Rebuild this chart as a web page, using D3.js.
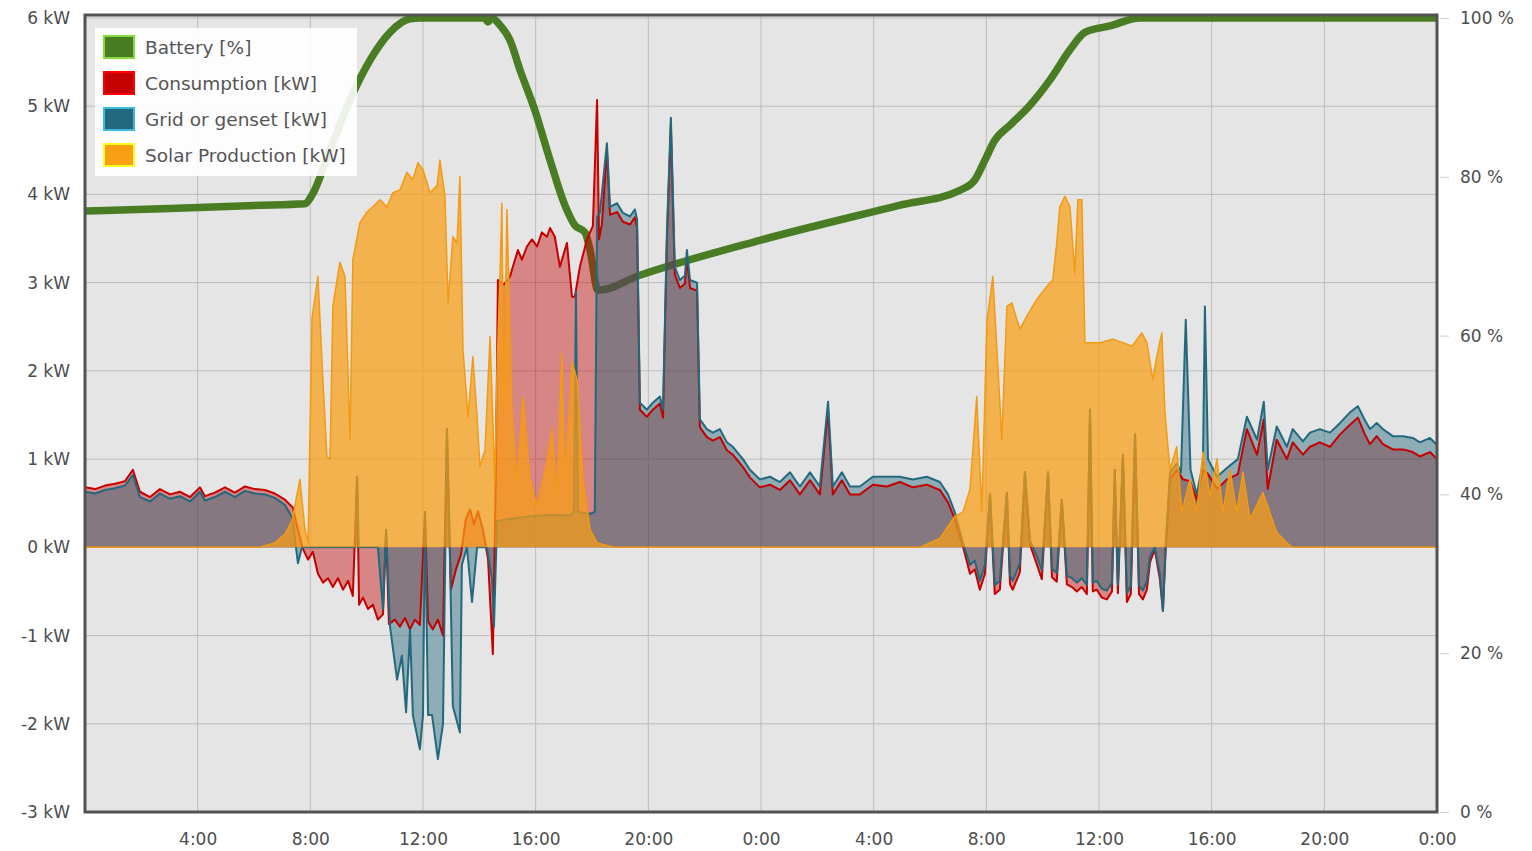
<!DOCTYPE html>
<html>
<head>
<meta charset="utf-8">
<script src="https://cdn.jsdelivr.net/npm/d3@7/dist/d3.min.js"></script>
<style>
  body { margin: 0; background: #fff; }
  text { font-family: "DejaVu Sans", sans-serif; }
</style>
</head>
<body>
<svg id="chart" width="1532" height="851"></svg>
<script>
// hours since start of day 1
var batteryPct = [[0,75.7],[3,76.0],[6,76.4],[7.81,76.6],[8.06,77.7],[8.7,83.4],[9.41,89.7],[10.12,94.7],[10.83,98.2],[11.54,99.9],[11.9,100],
  [14.2,100],[14.3,99.5],[14.45,100],[14.73,99.1],[15.09,97.2],[15.44,93.5],[15.97,88.4],[16.51,82.1],[17.04,76.4],[17.39,73.9],[17.75,73.0],
  [17.93,70.8],[18.21,65.7],[19.7,67.6],[23.96,72.0],[28.9,76.4],[31.06,78.3],[31.59,79.6],[31.95,82.1],[32.3,84.6],[32.84,86.5],[33.55,89.0],
  [34.26,92.2],[34.97,96.0],[35.5,98.2],[36.39,99.0],[37.45,100],[48,100]];

var consumptionKw = [[0,0.68],[0.36,0.66],[0.71,0.7],[1.06,0.72],[1.42,0.75],[1.7,0.88],[1.95,0.63],[2.31,0.57],[2.66,0.66],[3.02,0.6],[3.37,0.63],
  [3.73,0.57],[4.08,0.68],[4.26,0.58],[4.61,0.62],[4.97,0.68],[5.32,0.62],[5.68,0.69],[6.03,0.66],[6.39,0.65],[6.74,0.61],[7.1,0.54],[7.38,0.45],
  [7.56,0.2],[7.74,-0.02],[7.92,-0.14],[8.09,-0.05],[8.27,-0.3],[8.45,-0.4],[8.63,-0.35],[8.8,-0.45],[8.98,-0.35],[9.16,-0.48],[9.34,-0.38],
  [9.51,-0.55],[9.66,0.8],[9.73,-0.65],[9.87,-0.57],[10.05,-0.7],[10.22,-0.65],[10.4,-0.82],[10.58,-0.76],[10.69,0.2],[10.79,-0.87],[11.0,-0.82],
  [11.18,-0.9],[11.36,-0.8],[11.54,-0.93],[11.71,-0.82],[11.89,-0.88],[12.07,0.4],[12.18,-0.84],[12.35,-0.93],[12.53,-0.82],[12.71,-1.0],
  [12.85,1.34],[12.99,-0.48],[13.17,-0.25],[13.35,-0.08],[13.52,0.32],[13.67,0.43],[13.81,0.26],[13.95,0.41],[14.13,0.2],[14.31,-0.14],
  [14.48,-1.21],[14.59,0.88],[14.66,3.03],[14.87,2.98],[15.09,3.07],[15.19,3.18],[15.37,3.37],[15.51,3.26],[15.69,3.41],[15.87,3.49],[16.05,3.41],
  [16.22,3.57],[16.4,3.52],[16.51,3.62],[16.68,3.52],[16.86,3.18],[17.11,3.45],[17.29,2.84],[17.39,2.84],[17.57,3.18],[17.82,3.49],[18.03,3.64],
  [18.18,5.07],[18.25,3.49],[18.35,3.66],[18.53,4.5],[18.64,3.77],[18.89,3.8],[19.1,3.69],[19.35,3.66],[19.52,3.74],[19.6,3.62],[19.7,1.56],
  [19.95,1.48],[20.16,1.56],[20.41,1.63],[20.52,1.47],[20.66,3.49],[20.8,4.79],[20.94,3.09],[21.12,2.94],[21.3,2.99],[21.37,3.28],[21.48,2.94],
  [21.73,2.91],[21.83,1.36],[22.08,1.25],[22.29,1.21],[22.54,1.25],[22.79,1.1],[23.0,1.05],[23.36,0.91],[23.61,0.79],[23.96,0.68],[24.32,0.71],
  [24.67,0.65],[25.03,0.76],[25.38,0.6],[25.74,0.76],[26.09,0.6],[26.38,1.56],[26.55,0.6],[26.87,0.76],[27.16,0.6],[27.51,0.6],[27.97,0.71],
  [28.47,0.69],[28.93,0.74],[29.39,0.68],[29.89,0.71],[30.35,0.65],[30.64,0.51],[30.88,0.32],[31.17,0.01],[31.42,-0.3],[31.59,-0.25],[31.77,-0.48],
  [31.95,-0.3],[32.13,0.6],[32.3,-0.53],[32.48,-0.48],[32.73,0.62],[32.84,-0.42],[32.94,-0.48],[33.19,-0.28],[33.37,0.85],[33.55,0.03],[33.79,-0.19],
  [33.97,-0.36],[34.19,0.85],[34.33,-0.34],[34.5,-0.39],[34.68,0.54],[34.86,-0.42],[35.04,-0.45],[35.21,-0.5],[35.39,-0.45],[35.57,-0.53],
  [35.68,1.56],[35.78,-0.5],[35.92,-0.48],[36.1,-0.57],[36.28,-0.59],[36.46,-0.5],[36.56,0.88],[36.67,-0.52],[36.85,1.05],[36.99,-0.62],
  [37.13,-0.53],[37.28,1.28],[37.42,-0.53],[37.56,-0.59],[37.7,-0.48],[37.81,-0.17],[37.98,-0.02],[38.16,-0.36],[38.27,-0.72],[38.37,0.0],
  [38.52,0.77],[38.76,0.88],[38.98,0.77],[39.23,0.75],[39.47,0.54],[39.69,0.88],[39.87,0.83],[40.19,0.66],[40.54,0.77],[40.93,0.83],[41.25,1.34],
  [41.61,1.05],[41.85,1.45],[41.99,0.66],[42.31,1.22],[42.67,1.0],[42.88,1.19],[43.24,1.05],[43.49,1.14],[43.84,1.19],[44.2,1.14],[44.56,1.28],
  [44.91,1.39],[45.19,1.47],[45.44,1.28],[45.62,1.17],[45.86,1.26],[46.08,1.17],[46.43,1.11],[46.79,1.11],[47.14,1.08],[47.39,1.03],[47.75,1.08],[48,1.0]];

var gridKw = [[0,0.63],[0.36,0.61],[0.71,0.65],[1.06,0.67],[1.42,0.7],[1.7,0.82],[1.95,0.57],[2.31,0.52],[2.66,0.61],[3.02,0.55],[3.37,0.58],
  [3.73,0.52],[4.08,0.63],[4.26,0.53],[4.61,0.57],[4.97,0.63],[5.32,0.57],[5.68,0.64],[6.03,0.61],[6.39,0.6],[6.74,0.56],[7.1,0.48],[7.38,0.32],
  [7.47,0.05],[7.56,-0.18],[7.7,0.0],[9.6,0.0],[9.66,0.8],[9.72,0.0],[10.4,0.0],[10.58,-0.7],[10.69,0.2],[10.83,-0.9],[11.08,-1.5],[11.25,-1.23],
  [11.4,-1.87],[11.54,-0.93],[11.64,-1.9],[11.89,-2.29],[12.0,-1.9],[12.07,0.4],[12.18,-1.9],[12.32,-1.9],[12.53,-2.4],[12.71,-2.0],[12.85,1.34],
  [12.96,-0.17],[13.06,-1.8],[13.31,-2.1],[13.38,-0.2],[13.56,0.0],[13.74,-0.62],[13.92,0.0],[14.27,0.0],[14.45,-0.36],[14.52,-0.9],[14.63,0.3],
  [15.09,0.32],[15.8,0.35],[16.51,0.37],[17.22,0.36],[17.36,0.4],[17.43,2.9],[17.5,0.4],[17.93,0.38],[18.1,0.4],[18.18,3.75],[18.28,3.79],
  [18.53,4.58],[18.64,3.86],[18.89,3.9],[19.1,3.79],[19.35,3.75],[19.52,3.83],[19.6,3.72],[19.7,1.64],[19.95,1.56],[20.16,1.64],[20.41,1.71],
  [20.52,1.56],[20.66,3.57],[20.8,4.87],[20.94,3.18],[21.12,3.03],[21.3,3.08],[21.37,3.37],[21.48,3.03],[21.73,3.0],[21.83,1.45],[22.08,1.34],
  [22.29,1.3],[22.54,1.34],[22.79,1.19],[23.0,1.14],[23.36,1.0],[23.61,0.88],[23.96,0.77],[24.32,0.8],[24.67,0.74],[25.03,0.85],[25.38,0.69],
  [25.74,0.85],[26.09,0.69],[26.38,1.65],[26.55,0.69],[26.87,0.85],[27.16,0.69],[27.51,0.69],[27.97,0.8],[28.47,0.8],[28.93,0.8],[29.39,0.77],
  [29.89,0.8],[30.35,0.74],[30.64,0.6],[30.88,0.4],[31.17,0.05],[31.42,-0.2],[31.59,-0.15],[31.77,-0.38],[31.95,-0.2],[32.13,0.6],[32.3,-0.43],
  [32.48,-0.38],[32.73,0.62],[32.84,-0.32],[32.94,-0.38],[33.19,-0.18],[33.37,0.85],[33.55,0.08],[33.79,-0.1],[33.97,-0.26],[34.19,0.85],
  [34.33,-0.24],[34.5,-0.29],[34.68,0.54],[34.86,-0.32],[35.04,-0.35],[35.21,-0.4],[35.39,-0.35],[35.57,-0.43],[35.68,1.56],[35.78,-0.4],
  [35.92,-0.38],[36.1,-0.47],[36.28,-0.49],[36.46,-0.4],[36.56,0.88],[36.67,-0.42],[36.85,1.05],[36.99,-0.52],[37.13,-0.43],[37.28,1.28],
  [37.42,-0.43],[37.56,-0.49],[37.7,-0.38],[37.81,-0.1],[37.98,0.0],[38.16,-0.3],[38.27,-0.72],[38.37,0.05],[38.52,0.85],[38.76,0.95],[38.91,0.85],
  [39.08,2.58],[39.25,0.88],[39.47,0.6],[39.69,0.95],[39.76,2.73],[39.87,1.0],[40.19,0.8],[40.54,0.9],[40.93,1.0],[41.25,1.48],[41.61,1.22],
  [41.85,1.65],[41.99,0.88],[42.31,1.37],[42.67,1.14],[42.88,1.34],[43.24,1.2],[43.49,1.3],[43.84,1.34],[44.2,1.3],[44.56,1.41],[44.91,1.53],
  [45.19,1.6],[45.44,1.44],[45.62,1.34],[45.86,1.41],[46.08,1.34],[46.43,1.26],[46.79,1.26],[47.14,1.24],[47.39,1.19],[47.75,1.24],[48,1.16]];

var solarKw = [[0,0],[6.2,0],[6.74,0.05],[7.1,0.15],[7.35,0.3],[7.63,0.77],[7.81,0.2],[7.92,0.05],[8.06,2.6],[8.27,3.07],[8.45,1.87],[8.59,1.03],
  [8.7,1.0],[8.8,2.73],[9.05,3.23],[9.23,3.07],[9.41,1.22],[9.51,3.26],[9.76,3.68],[10.01,3.8],[10.22,3.86],[10.47,3.94],[10.72,3.86],[10.93,4.02],
  [11.18,4.05],[11.43,4.25],[11.64,4.17],[11.82,4.36],[12.0,4.28],[12.25,4.02],[12.5,4.1],[12.6,4.39],[12.78,3.98],[12.89,2.77],[13.06,3.52],
  [13.21,3.45],[13.31,4.2],[13.42,2.24],[13.6,1.48],[13.77,2.16],[13.92,1.48],[14.02,0.92],[14.2,1.1],[14.38,2.39],[14.55,0.74],[14.63,2.05],
  [14.73,3.03],[14.8,3.9],[14.87,1.53],[14.98,3.83],[15.16,1.53],[15.34,0.77],[15.55,1.71],[15.8,0.77],[16.05,0.46],[16.4,0.96],[16.58,1.34],
  [16.76,0.6],[16.93,2.2],[17.04,0.77],[17.29,2.1],[17.47,1.9],[17.68,0.77],[17.93,0.2],[18.18,0.05],[18.53,0.02],[18.8,0],[29.64,0],[30.35,0.1],
  [30.88,0.35],[31.17,0.4],[31.42,0.66],[31.66,1.71],[31.84,0.4],[32.02,2.55],[32.23,3.07],[32.41,2.05],[32.55,1.22],[32.73,2.73],[32.91,2.77],
  [33.01,2.66],[33.19,2.47],[33.44,2.62],[33.79,2.81],[34.15,2.96],[34.36,3.03],[34.5,3.45],[34.61,3.86],[34.79,3.98],[34.97,3.86],[35.14,3.11],
  [35.25,3.94],[35.39,3.94],[35.5,2.32],[36.03,2.32],[36.49,2.36],[36.85,2.32],[37.17,2.28],[37.52,2.43],[37.7,2.32],[37.91,1.9],[38.05,2.16],
  [38.23,2.43],[38.34,1.53],[38.52,0.88],[38.76,1.14],[38.94,0.4],[39.23,0.77],[39.47,0.4],[39.69,1.08],[39.94,0.58],[40.19,1.0],[40.4,0.4],
  [40.65,0.88],[40.89,0.4],[41.11,0.85],[41.36,0.32],[41.82,0.62],[42.31,0.17],[42.67,0.05],[42.85,0],[48,0]];

var hourTicks = [4, 8, 12, 16, 20, 24, 28, 32, 36, 40, 44, 48];
var kwTicks = [-3, -2, -1, 0, 1, 2, 3, 4, 5, 6];
var pctTicks = [0, 20, 40, 60, 80, 100];

var legendItems = [
  {name: "Battery [%]", color: "#4a7c23"},
  {name: "Consumption [kW]", color: "#c40000"},
  {name: "Grid or genset [kW]", color: "#23697d"},
  {name: "Solar Production [kW]", color: "#fa9e14"}
];

var svg = d3.select("#chart");
var plotL = 85, plotR = 1437, plotT = 15, plotB = 812;

var x = d3.scaleLinear().domain([0, 48]).range([plotL, plotR]);
var y = d3.scaleLinear().domain([-3, 6]).range([plotB, 18]);
var yPct = d3.scaleLinear().domain([0, 100]).range([plotB, 18]);

// plot background
svg.append("rect").attr("x", plotL).attr("y", plotT).attr("width", plotR - plotL).attr("height", plotB - plotT).attr("fill", "#e5e5e5");

// grid lines
svg.append("g").selectAll("line").data(kwTicks).join("line")
  .attr("x1", plotL).attr("x2", plotR).attr("y1", d => y(d)).attr("y2", d => y(d))
  .attr("stroke", "#bcbcbc").attr("stroke-width", 1);
svg.append("g").selectAll("line").data(hourTicks).join("line")
  .attr("x1", d => x(d)).attr("x2", d => x(d)).attr("y1", plotT).attr("y2", plotB)
  .attr("stroke", "#bcbcbc").attr("stroke-width", 1);

// battery line goes under the areas
var battLine = d3.line().x(d => x(d[0])).y(d => yPct(d[1])).curve(d3.curveMonotoneX);
svg.append("path").datum(batteryPct).attr("d", battLine)
  .attr("fill", "none").attr("stroke", "#4a7c23").attr("stroke-width", 7.5)
  .attr("stroke-linecap", "butt").attr("stroke-linejoin", "round");

var area = d3.area().x(d => x(d[0])).y0(y(0)).y1(d => y(d[1]));
var line = d3.line().x(d => x(d[0])).y(d => y(d[1]));

svg.append("path").datum(consumptionKw).attr("d", area).attr("fill", "#c40000").attr("fill-opacity", 0.42);
svg.append("path").datum(gridKw).attr("d", area).attr("fill", "#23697d").attr("fill-opacity", 0.45);
svg.append("path").datum(consumptionKw).attr("d", line).attr("fill", "none").attr("stroke", "#c40000").attr("stroke-width", 2).attr("stroke-linejoin", "round");
svg.append("path").datum(gridKw).attr("d", line).attr("fill", "none").attr("stroke", "#23697d").attr("stroke-width", 2).attr("stroke-linejoin", "round");

svg.append("path").datum(solarKw).attr("d", area).attr("fill", "#fa9e14").attr("fill-opacity", 0.72);
svg.append("path").datum(solarKw).attr("d", line).attr("fill", "none").attr("stroke", "#f29a12").attr("stroke-width", 1.5).attr("stroke-linejoin", "round");

// frame
svg.append("rect").attr("x", plotL).attr("y", plotT).attr("width", plotR - plotL).attr("height", plotB - plotT)
  .attr("fill", "none").attr("stroke", "#525252").attr("stroke-width", 3);

// axes
var xAxis = svg.append("g").attr("transform", "translate(0," + (plotB + 18) + ")")
  .call(d3.axisBottom(x).tickValues(hourTicks).tickSize(0).tickFormat(d => (d % 24) + ":00"));
var yAxis = svg.append("g").attr("transform", "translate(" + (plotL - 12) + ",0)")
  .call(d3.axisLeft(y).tickValues(kwTicks).tickSize(0).tickFormat(d => d + " kW"));
var yAxisR = svg.append("g").attr("transform", "translate(" + (plotR + 3) + ",0)")
  .call(d3.axisRight(yPct).tickValues(pctTicks).tickSize(9).tickPadding(11).tickFormat(d => d + " %"));

[xAxis, yAxis, yAxisR].forEach(function(g) {
  g.select(".domain").remove();
  g.selectAll("text").attr("fill", "#4d4d4d").style("font-size", "17px").style("font-family", "DejaVu Sans");
});
yAxisR.selectAll("line").attr("stroke", "#cfcfcf");

// legend
var legend = svg.append("g").attr("transform", "translate(95,28)");
legend.append("rect").attr("width", 262).attr("height", 148).attr("fill", "#fff").attr("fill-opacity", 0.9);
var items = legend.selectAll("g").data(legendItems).join("g")
  .attr("transform", (d, i) => "translate(9," + (8 + i * 36) + ")");
items.append("rect").attr("width", 30).attr("height", 22)
  .attr("fill", d => d.color).attr("stroke", d => d3.color(d.color).brighter(1.6)).attr("stroke-width", 2);
items.append("text").attr("x", 41).attr("y", 11).attr("dy", "0.36em")
  .attr("fill", "#555").style("font-size", "18.5px").text(d => d.name);
</script>
</body>
</html>
